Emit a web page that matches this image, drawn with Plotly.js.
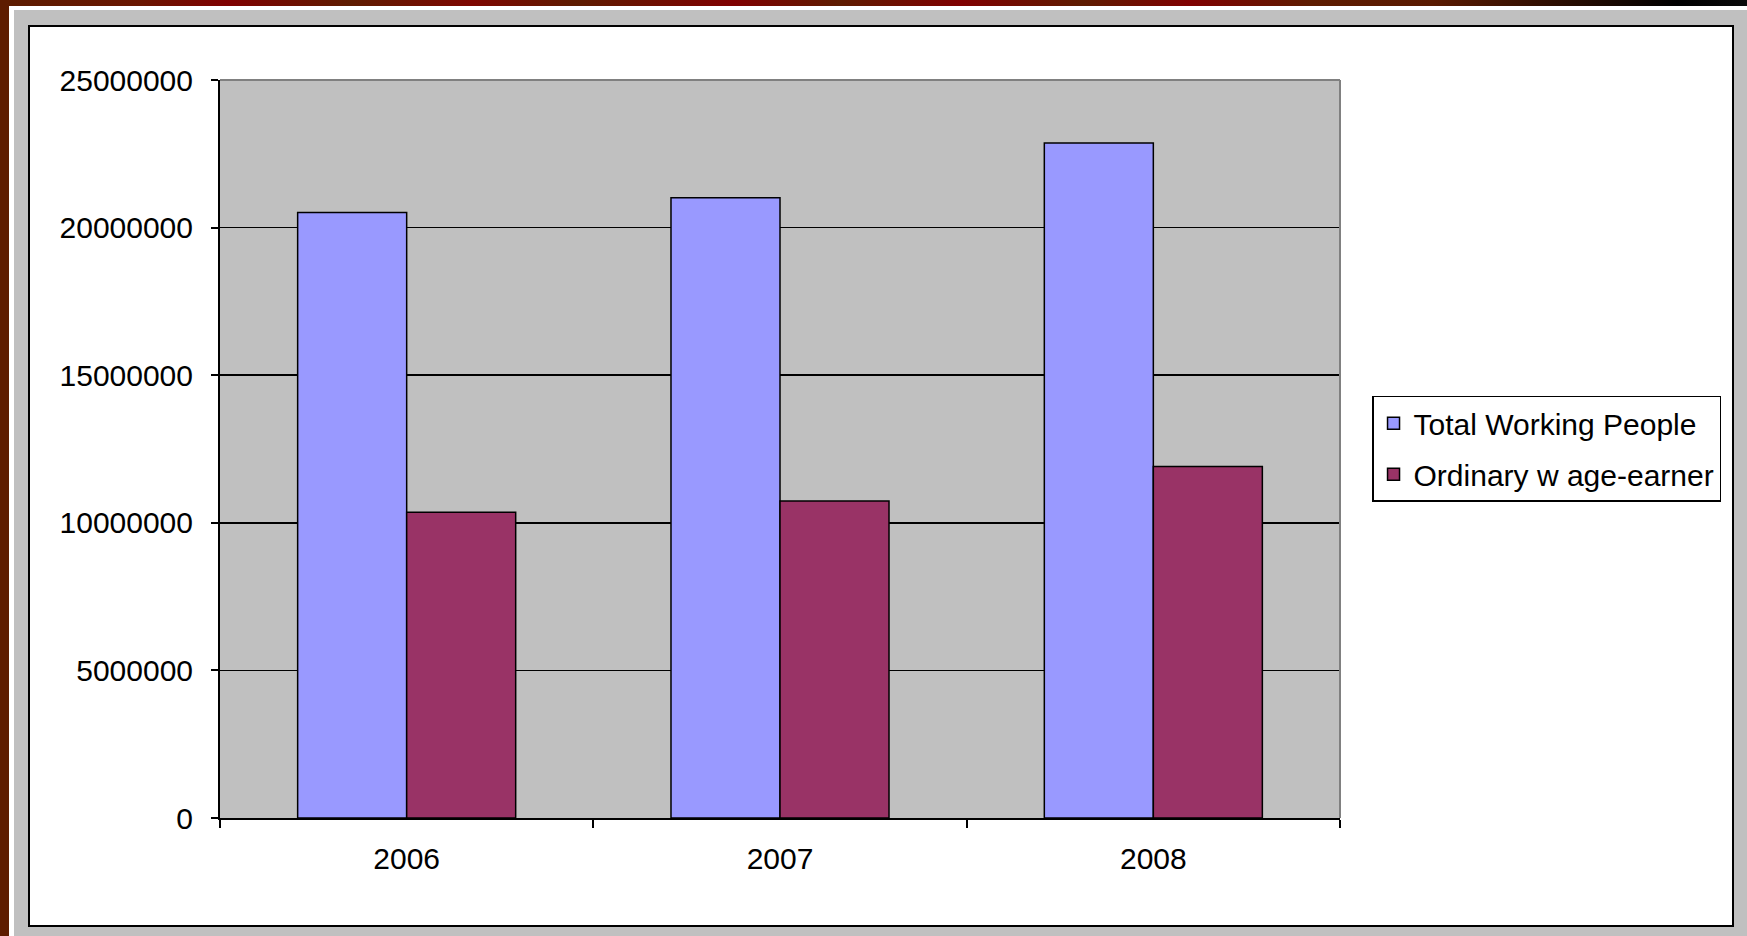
<!DOCTYPE html>
<html>
<head>
<meta charset="utf-8">
<script src="https://cdn.plot.ly/plotly-3.0.1.min.js"></script>
<style>
  html, body { margin: 0; padding: 0; width: 1747px; height: 936px; overflow: hidden; background: #ffffff; }
  #topstrip { position: absolute; left: 0; top: 0; width: 1747px; height: 6px;
    background: linear-gradient(to right, #5c1c00 0%, #6a1600 8%, #800000 13%, #5e1c00 20%, #7e0600 27%, #5e1c00 33%, #800000 42%, #5e1c00 48%, #800000 55%, #5e1c00 62%, #800000 68%, #5e1c00 75%, #5a1a00 82%, #1a0800 92%, #000000 96%, #0a0a0a 100%); }
  #leftstrip { position: absolute; left: 0; top: 0; width: 9px; height: 936px; background: #5e1c00; }
  #gray { position: absolute; left: 14px; top: 10px; width: 1733px; height: 926px; background: #c0c0c0; }
  #frame { position: absolute; left: 28px; top: 25px; width: 1702px; height: 898px; background: #ffffff; border: 2px solid #000000; box-sizing: content-box; }
  #chart { position: absolute; left: 0; top: 0; width: 1747px; height: 936px; }
</style>
</head>
<body>
<div id="topstrip"></div>
<div id="leftstrip"></div>
<div id="gray"></div>
<div id="frame"></div>
<div id="chart"></div>
<script>
const years = ["2006", "2007", "2008"];
const totalWorking = [20510000, 21010000, 22870000];
const ordinaryWage = [10360000, 10740000, 11910000];
const seriesNames = ["Total Working People", "Ordinary w age-earner"];
const yTicks = [0, 5000000, 10000000, 15000000, 20000000, 25000000];

const fontFamily = "Liberation Sans, Arial, sans-serif";

const traces = [
  {
    type: "bar", name: seriesNames[0], x: years, y: totalWorking,
    marker: { color: "#9999ff", line: { color: "#000000", width: 1.5 } },
    legendgroup: "a", hoverinfo: "x+y"
  },
  {
    type: "bar", name: seriesNames[1], x: years, y: ordinaryWage,
    marker: { color: "#993366", line: { color: "#000000", width: 1.5 } },
    legendgroup: "b", hoverinfo: "x+y"
  }
];

const layout = {
  width: 1747, height: 936,
  margin: { l: 220, r: 407, t: 80, b: 118, pad: 0 },
  paper_bgcolor: "rgba(0,0,0,0)",
  plot_bgcolor: "#c0c0c0",
  font: { family: fontFamily, size: 30, color: "#000000" },
  barmode: "group",
  bargap: 0.416,
  bargroupgap: 0,
  showlegend: true,
  legend: {
    x: 1.0286, xanchor: "left", y: 0.572, yanchor: "top",
    bgcolor: "#ffffff", bordercolor: "#000000", borderwidth: 1.5,
    font: { family: fontFamily, size: 30, color: "#000000" },
    traceorder: "grouped", tracegroupgap: 9
  },
  xaxis: {
    type: "category",
    showgrid: false, zeroline: false,
    showline: true, linecolor: "#000000", linewidth: 2,
    ticks: "outside", ticklen: 8, tickwidth: 2, tickcolor: "#000000",
    tickson: "boundaries",
    tickfont: { family: fontFamily, size: 30, color: "#000000" },
    ticklabelstandoff: 13
  },
  yaxis: {
    range: [0, 25000000],
    tickvals: yTicks,
    tickformat: "d",
    showgrid: true, gridcolor: "#000000", gridwidth: 1.5,
    zeroline: false,
    showline: true, linecolor: "#000000", linewidth: 2,
    ticks: "outside", ticklen: 7, tickwidth: 2, tickcolor: "#000000",
    tickfont: { family: fontFamily, size: 30, color: "#000000" },
    ticklabelstandoff: 12
  },
  shapes: [
    { type: "line", xref: "paper", yref: "paper", x0: 0, x1: 1, y0: 1, y1: 1, line: { color: "#808080", width: 2 } },
    { type: "line", xref: "paper", yref: "paper", x0: 1, x1: 1, y0: 0, y1: 1, line: { color: "#808080", width: 2 } }
  ]
};

Plotly.newPlot("chart", traces, layout, { displayModeBar: false, staticPlot: true });
</script>
</body>
</html>
